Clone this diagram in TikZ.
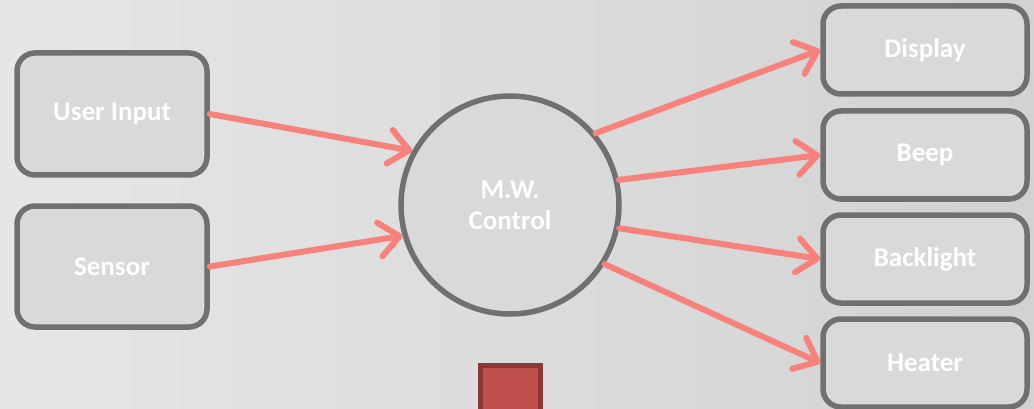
\documentclass[tikz,border=0pt]{standalone}
\usepackage{fontspec}
\setmainfont{Carlito}
\usetikzlibrary{arrows.meta}
\definecolor{bgl}{RGB}{230,230,230}
\definecolor{bgr}{RGB}{210,210,210}
\definecolor{boxfill}{RGB}{217,217,217}
\definecolor{boxline}{RGB}{112,112,112}
\definecolor{flow}{RGB}{247,130,123}
\definecolor{blockfill}{RGB}{192,80,77}
\definecolor{blockline}{RGB}{140,56,54}
\begin{document}
\begin{tikzpicture}[x=1pt,y=-1pt,
  blockbox/.style={draw=boxline,line width=5.5pt,fill=boxfill,rounded corners=18pt,
    minimum width=190pt,minimum height=122pt,inner sep=0pt,
    text=white,font=\fontsize{27}{30}\selectfont\bfseries},
  outbox/.style={blockbox,minimum width=204pt,minimum height=88pt},
  hub/.style={draw=boxline,line width=5.5pt,fill=boxfill,circle,minimum size=218pt,
    inner sep=0pt,text=white,align=center,font=\fontsize{27}{31}\selectfont\bfseries},
  flowarrow/.style={draw=flow,line width=6pt,line cap=round,
    -{Straight Barb[length=20pt,width=34pt,line width=6pt,round]}}]
  % page and background
  \useasboundingbox (0,0) rectangle (1034,409);
  \shade[left color=bgl,right color=bgr] (0,0) rectangle (1034,409);

  % inputs
  \node[blockbox] (ui) at (112,114) {User Input};
  \node[blockbox,minimum height=121pt] (sen) at (112,266.5) {Sensor};

  % controller
  \node[hub] (mw) at (510,205) {M.W.\\Control};

  % outputs
  \node[outbox] (disp) at (925,50) {Display};
  \node[outbox] (beep) at (925,155) {Beep};
  \node[outbox] (back) at (925,259) {Backlight};
  \node[outbox] (heat) at (925,363) {Heater};

  % red block at the bottom
  \draw[blockline,fill=blockfill,line width=5pt] (480.5,365.5) rectangle (540.5,420);

  % flows
  \draw[flowarrow] (ui.east) -- (mw.151);
  \draw[flowarrow] (sen.east) -- (mw.196);
  \draw[flowarrow] (mw.40) -- (disp.west);
  \draw[flowarrow] (mw.13) -- (beep.west);
  \draw[flowarrow] (mw.-12) -- (back.west);
  \draw[flowarrow] (mw.-32) -- (heat.west);
\end{tikzpicture}
\end{document}
